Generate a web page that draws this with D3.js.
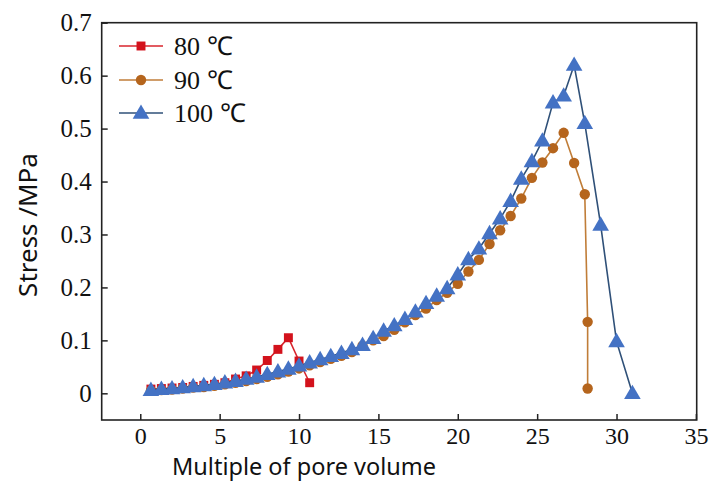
<!DOCTYPE html>
<html>
<head>
<meta charset="utf-8">
<script src="https://cdn.jsdelivr.net/npm/d3@7"></script>
<style>
  html, body { margin: 0; padding: 0; background: #fff; }
  svg { display: block; }
</style>
</head>
<body>
<svg id="chart" width="712" height="482"></svg>
<script>
// Stress vs. injected pore volumes at three temperatures
const seriesNames = ["80 ℃", "90 ℃", "100 ℃"];

const x80 = [0.67, 1.33, 2.0, 2.67, 3.33, 4.0, 4.67, 5.33, 6.0, 6.67, 7.33, 8.0, 8.67, 9.33, 10.0, 10.67];
const y80 = [0.008, 0.009, 0.010, 0.011, 0.013, 0.015, 0.017, 0.020, 0.027, 0.033, 0.044, 0.062, 0.083, 0.105, 0.061, 0.020];

const x90 = [0.67, 1.33, 2.0, 2.67, 3.33, 4.0, 4.67, 5.33, 6.0, 6.67, 7.33, 8.0, 8.67, 9.33, 10.0,
             10.67, 11.33, 12.0, 12.67, 13.33, 14.0, 14.67, 15.33, 16.0, 16.67, 17.33, 18.0, 18.67, 19.33, 20.0,
             20.67, 21.33, 22.0, 22.67, 23.33, 24.0, 24.67, 25.33, 26.0, 26.67, 27.33, 28.0, 28.18, 28.18];
const y90 = [0.005, 0.006, 0.007, 0.009, 0.011, 0.012, 0.014, 0.017, 0.020, 0.023, 0.027, 0.031, 0.036, 0.041, 0.047,
             0.053, 0.059, 0.065, 0.071, 0.078, 0.090, 0.100, 0.108, 0.120, 0.134, 0.148, 0.160, 0.176, 0.190, 0.207,
             0.230, 0.252, 0.282, 0.308, 0.335, 0.368, 0.407, 0.436, 0.463, 0.492, 0.435, 0.376, 0.135, 0.009];

const x100 = [0.67, 1.33, 2.0, 2.67, 3.33, 4.0, 4.67, 5.33, 6.0, 6.67, 7.33, 8.0, 8.67, 9.33, 10.0,
              10.67, 11.33, 12.0, 12.67, 13.33, 14.0, 14.67, 15.33, 16.0, 16.67, 17.33, 18.0, 18.67, 19.33, 20.0,
              20.67, 21.33, 22.0, 22.67, 23.33, 24.0, 24.67, 25.33, 26.0, 26.67, 27.33, 28.0, 29.0, 30.0, 31.0];
const y100 = [0.006, 0.008, 0.009, 0.011, 0.013, 0.015, 0.017, 0.020, 0.023, 0.027, 0.031, 0.036, 0.041, 0.046, 0.052,
              0.058, 0.064, 0.070, 0.076, 0.083, 0.091, 0.104, 0.118, 0.128, 0.140, 0.154, 0.170, 0.184, 0.198, 0.224,
              0.253, 0.273, 0.302, 0.330, 0.363, 0.405, 0.438, 0.477, 0.549, 0.562, 0.620, 0.510, 0.318, 0.098, 0.000];

const xTicks = [0, 5, 10, 15, 20, 25, 30, 35];
const yTicks = [0, 0.1, 0.2, 0.3, 0.4, 0.5, 0.6, 0.7];

const lineColors = ["#d8242c", "#c07d38", "#2f5078"];
const markColors = ["#d3121c", "#b5651d", "#4472c4"];
const symbols = [d3.symbolSquare, d3.symbolCircle, d3.symbolTriangle];
const symbolSizes = [80, 85, 120];

const svg = d3.select("#chart");
const plot = { left: 101.7, right: 696.7, top: 22.7, bottom: 420 };

const x = d3.scaleLinear().domain([-2.43, 35.05]).range([plot.left, plot.right]);
const y = d3.scaleLinear().domain([-0.0504, 0.7]).range([plot.bottom, plot.top]);

// frame
svg.append("rect")
  .attr("x", plot.left).attr("y", plot.top)
  .attr("width", plot.right - plot.left).attr("height", plot.bottom - plot.top)
  .attr("fill", "none").attr("stroke", "#222").attr("stroke-width", 1.6);

// inward ticks
const tickFont = "'Liberation Serif', 'Times New Roman', serif";
const xAxis = svg.append("g").attr("transform", `translate(0,${plot.bottom})`)
  .call(d3.axisBottom(x).tickValues(xTicks).tickSizeInner(-6).tickSizeOuter(0).tickPadding(7).tickFormat(d3.format("d")));
const yAxis = svg.append("g").attr("transform", `translate(${plot.left},0)`)
  .call(d3.axisLeft(y).tickValues(yTicks).tickSizeInner(-6).tickSizeOuter(0).tickPadding(10).tickFormat(d => d === 0 ? "0" : d3.format(".1f")(d)));
[xAxis, yAxis].forEach(g => {
  g.select(".domain").remove();
  g.selectAll(".tick line").attr("stroke", "#222").attr("stroke-width", 1.5);
  g.selectAll(".tick text").attr("fill", "#111").style("font-family", tickFont).style("font-size", "25px");
});
xAxis.selectAll(".tick text").style("font-size", "24px");

// series
const series = [
  { name: seriesNames[0], xs: x80, ys: y80 },
  { name: seriesNames[1], xs: x90, ys: y90 },
  { name: seriesNames[2], xs: x100, ys: y100 }
];
const line = d3.line().x(d => x(d[0])).y(d => y(d[1]));

series.forEach((s, i) => {
  const pts = s.xs.map((v, k) => [v, s.ys[k]]);
  const g = svg.append("g");
  g.append("path").datum(pts).attr("d", line)
    .attr("fill", "none").attr("stroke", lineColors[i]).attr("stroke-width", 1.6);
  g.selectAll("path.m").data(pts).join("path").attr("class", "m")
    .attr("transform", d => `translate(${x(d[0])},${y(d[1]) + (i === 2 ? 1 : 0)})`)
    .attr("d", d3.symbol().type(symbols[i]).size(symbolSizes[i]))
    .attr("fill", markColors[i]);
});

// legend
const legendRows = [46, 80, 113];
series.forEach((s, i) => {
  const g = svg.append("g").attr("transform", `translate(0,${legendRows[i]})`);
  g.append("line").attr("x1", 119).attr("x2", 163).attr("y1", 0).attr("y2", 0)
    .attr("stroke", lineColors[i]).attr("stroke-width", 1.6);
  g.append("path").attr("transform", `translate(141,${i === 2 ? 1 : 0})`)
    .attr("d", d3.symbol().type(symbols[i]).size(symbolSizes[i])).attr("fill", markColors[i]);
  g.append("text").attr("x", 174).attr("y", 9).text(s.name)
    .attr("fill", "#111").style("font-family", tickFont).style("font-size", "26px");
});

// axis titles
const titleFont = "'Noto Sans', 'Open Sans', sans-serif";
svg.append("text").attr("x", 304).attr("y", 475).attr("text-anchor", "middle")
  .style("font-family", titleFont).style("font-size", "23.5px").attr("fill", "#111")
  .text("Multiple of pore volume");
svg.append("text").attr("transform", "translate(37,225) rotate(-90)").attr("text-anchor", "middle")
  .style("font-family", titleFont).style("font-size", "26px").attr("fill", "#111")
  .text("Stress /MPa");
</script>
</body>
</html>
